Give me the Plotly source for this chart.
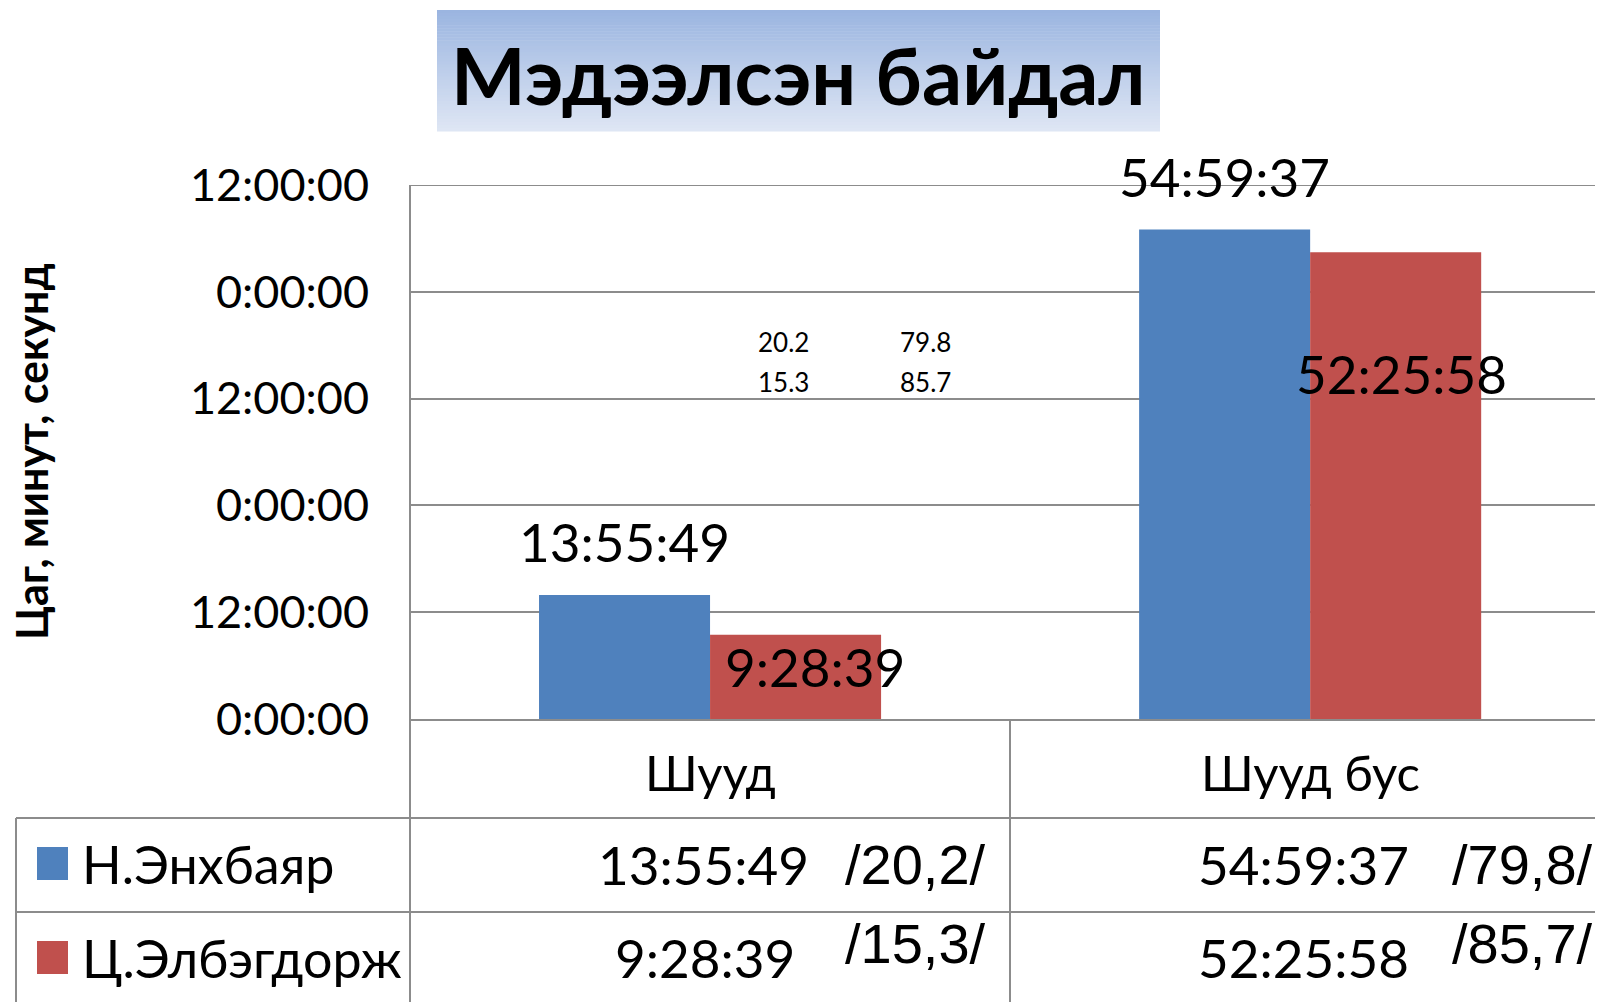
import plotly.graph_objects as go

# ---------------- data ----------------
categories = ["Шууд", "Шууд бус"]
series_names = ["Н.Энхбаяр", "Ц.Элбэгдорж"]
enkhbayar_time = ["13:55:49", "54:59:37"]
elbegdorj_time = ["9:28:39", "52:25:58"]
enkhbayar_pct_table = ["20,2", "79,8"]
elbegdorj_pct_table = ["15,3", "85,7"]
enkhbayar_pct = [20.2, 79.8]
elbegdorj_pct = [15.3, 85.7]
y_tickvals = [0, 12, 24, 36, 48, 60]
y_ticktext = ["0:00:00", "12:00:00", "0:00:00", "12:00:00", "0:00:00", "12:00:00"]
title_text = "Мэдээлсэн байдал"
y_title = "Цаг, минут, секунд"


def hours(s):
    h, m, sec = map(int, s.split(":"))
    return h + m / 60 + sec / 3600


enkhbayar_h = [hours(s) for s in enkhbayar_time]
elbegdorj_h = [hours(s) for s in elbegdorj_time]

# ---------------- layout constants (page pixels) ----------------
OFF = 8  # default page body margin
W, H = 1603 - OFF, 1002 - OFF
PL, PR, PT, PB = 410, 1603, 185, 719  # plot area in page pixels
BLUE = "#4F81BD"
RED = "#C0504D"
GRID = "#8C8C8C"
FONT = "Lato"
YMAX = 60


def xp(px):
    return (px - PL) / (PR - PL)


def yp(py):
    return (PB - py) / (PB - PT)


fig = go.Figure()
fig.add_trace(go.Bar(x=categories, y=enkhbayar_h, name=series_names[0],
                     marker=dict(color=BLUE, line=dict(width=0))))
fig.add_trace(go.Bar(x=categories, y=elbegdorj_h, name=series_names[1],
                     marker=dict(color=RED, line=dict(width=0))))

shapes = []
annotations = []


def text(t, x, y, size, family=FONT, xanchor="center", yanchor="middle", **kw):
    d = dict(text=t, xref="paper", yref="paper", x=x, y=y, showarrow=False,
             xanchor=xanchor, yanchor=yanchor,
             font=dict(family=family, size=size, color="black"))
    d.update(kw)
    annotations.append(d)


# title gradient box
top_c = (155, 181, 224)
bot_c = (222, 230, 244)
y0, y1 = 10, 131
n = 40
for i in range(n):
    t = i / (n - 1)
    c = tuple(round(top_c[k] + (bot_c[k] - top_c[k]) * t) for k in range(3))
    ya = y0 + (y1 - y0) * i / n
    yb = y0 + (y1 - y0) * (i + 1) / n + 0.6
    shapes.append(dict(type="rect", xref="paper", yref="paper",
                       x0=xp(437), x1=xp(1160), y0=yp(ya), y1=yp(yb),
                       fillcolor="rgb(%d,%d,%d)" % c, line=dict(width=0),
                       layer="below"))
text("<b>%s</b>" % title_text, xp(798), yp(74), 79)

# y-axis title
text("<b>%s</b>" % y_title, xp(31), yp(452), 43, textangle=-90)

# top gridline (range end)
shapes.append(dict(type="line", xref="paper", yref="y", x0=0, x1=1, y0=YMAX, y1=YMAX,
                   line=dict(color=GRID, width=2), layer="below"))

# data labels on bars (x in data units, y in paper units of the value axis)
blue_off = -0.1425
red_off = 0.1425
blue_dy = [6.0, 6.0]
red_dx = [0.0325, 0.0095]
red_dy = [-3.6, -13.6]
for i in range(len(categories)):
    annotations.append(dict(text=enkhbayar_time[i], x=i + blue_off,
                            y=(enkhbayar_h[i] + blue_dy[i]) / YMAX,
                            xref="x", yref="paper", showarrow=False,
                            xanchor="center", yanchor="middle",
                            font=dict(family=FONT, size=53, color="black")))
    annotations.append(dict(text=elbegdorj_time[i], x=i + red_off + red_dx[i],
                            y=(elbegdorj_h[i] + red_dy[i]) / YMAX,
                            xref="x", yref="paper", showarrow=False,
                            xanchor="center", yanchor="middle",
                            font=dict(family=FONT, size=53, color="black")))

# stray percentage labels
pct_x = [783, 925]
for i in range(2):
    text("%.1f" % enkhbayar_pct[i], xp(pct_x[i]), yp(342), 26)
    text("%.1f" % elbegdorj_pct[i], xp(pct_x[i]), yp(382), 26)


# data table lines
def hline(py, x0, x1):
    shapes.append(dict(type="line", xref="paper", yref="paper", x0=xp(x0), x1=xp(x1),
                       y0=yp(py), y1=yp(py), line=dict(color=GRID, width=2)))


def vline(px, py0, py1):
    shapes.append(dict(type="line", xref="paper", yref="paper", x0=xp(px), x1=xp(px),
                       y0=yp(py0), y1=yp(py1), line=dict(color=GRID, width=2)))


hline(818, 16, 1603)
hline(912, 16, 1603)
vline(16, 818, 1002)
vline(410, 185, 1002)
vline(1010, 719, 1002)

# category labels in table
cat_x = [710, 1310]
for i, c in enumerate(categories):
    text(c, xp(cat_x[i]), yp(772), 49)

# legend keys + names
row_y = [864, 958]
colors = [BLUE, RED]
for r in range(2):
    shapes.append(dict(type="rect", xref="paper", yref="paper", x0=xp(37), x1=xp(68),
                       y0=yp(row_y[r] - 17), y1=yp(row_y[r] + 16),
                       fillcolor=colors[r], line=dict(width=0)))
    text(series_names[r], xp(80), yp(row_y[r]), 52, xanchor="left")

# table values
times = [enkhbayar_time, elbegdorj_time]
pcts = [enkhbayar_pct_table, elbegdorj_pct_table]
time_right = [[811, 1411], [797, 1411]]
pct_left = [843, 1450]
pct_y = [864, 943]
for r in range(2):
    for c in range(2):
        text(times[r][c], xp(time_right[r][c]), yp(row_y[r]), 53, xanchor="right")
        text("/%s/" % pcts[r][c], xp(pct_left[c]), yp(pct_y[r]), 56,
             family="Liberation Sans", xanchor="left")

fig.update_layout(
    width=W, height=H,
    margin=dict(l=PL - OFF, r=W - (PR - OFF), t=PT - OFF, b=H - (PB - OFF), pad=0),
    paper_bgcolor="white", plot_bgcolor="white",
    barmode="group", bargap=0.43, bargroupgap=0,
    showlegend=False,
    shapes=shapes, annotations=annotations,
    font=dict(family=FONT, color="black"),
    xaxis=dict(range=[-0.5, 1.488], showticklabels=False, showgrid=False, zeroline=False,
               showline=True, linecolor=GRID, linewidth=2, ticks=""),
    yaxis=dict(range=[0, YMAX], tickvals=y_tickvals, ticktext=y_ticktext,
               showgrid=True, gridcolor=GRID, gridwidth=2, zeroline=False,
               showline=False, ticks="", ticklabelstandoff=40,
               tickfont=dict(family=FONT, size=45, color="black")),
)

fig.write_html("out.html")
